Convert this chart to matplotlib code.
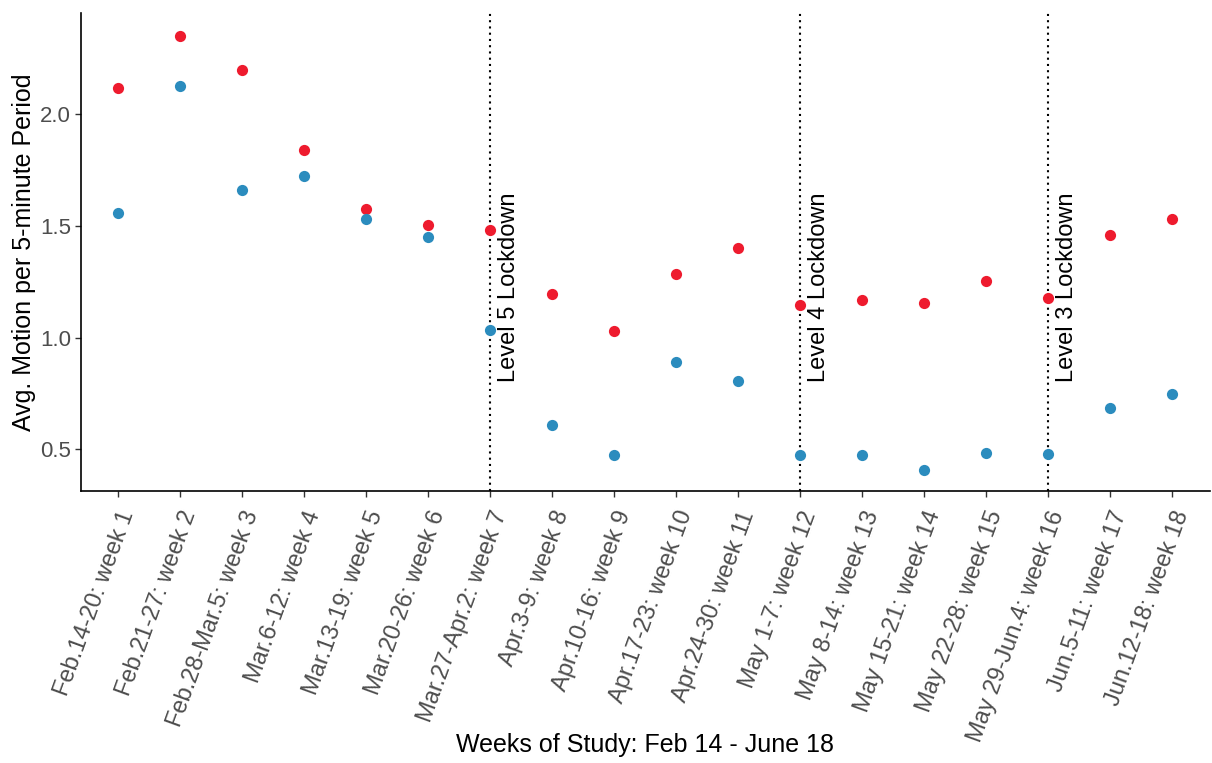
#!/usr/bin/env python3
import matplotlib
matplotlib.use('Agg')
import matplotlib.pyplot as plt
import matplotlib.transforms as mtransforms
import numpy as np

weeks = [
    'Feb.14-20: week 1', 'Feb.21-27: week 2', 'Feb.28-Mar.5: week 3',
    'Mar.6-12: week 4', 'Mar.13-19: week 5', 'Mar.20-26: week 6',
    'Mar.27-Apr.2: week 7', 'Apr.3-9: week 8', 'Apr.10-16: week 9',
    'Apr.17-23: week 10', 'Apr.24-30: week 11', 'May 1-7: week 12',
    'May 8-14: week 13', 'May 15-21: week 14', 'May 22-28: week 15',
    'May 29-Jun.4: week 16', 'Jun.5-11: week 17', 'Jun.12-18: week 18',
]
red_vals = [2.117, 2.350, 2.196, 1.839, 1.574, 1.504, 1.481, 1.196, 1.031,
            1.286, 1.400, 1.144, 1.167, 1.154, 1.252, 1.175, 1.460, 1.531]
blue_vals = [1.557, 2.125, 1.661, 1.720, 1.531, 1.448, 1.033, 0.607, 0.473,
             0.891, 0.805, 0.475, 0.473, 0.406, 0.485, 0.479, 0.686, 0.748]
lockdown_weeks = [7, 12, 16]
lockdown_labels = ['Level 5 Lockdown', 'Level 4 Lockdown', 'Level 3 Lockdown']

plt.rcParams['font.family'] = ['Liberation Sans', 'DejaVu Sans']

fig = plt.figure(figsize=(12.12, 7.63), dpi=100)
ax = fig.add_axes([0.0668, 0.3565, 0.9312, 0.6265])

x = np.arange(1, len(weeks) + 1)
ax.scatter(x, red_vals, s=65, color='#EE1B2E', zorder=3, linewidths=0)
ax.scatter(x, blue_vals, s=65, color='#2B8CBE', zorder=3, linewidths=0)

# lockdown markers
for wk, lab in zip(lockdown_weeks, lockdown_labels):
    ax.axvline(wk, color='black', linestyle=(0, (1, 2)), linewidth=1.5, zorder=2)
    ax.text(wk + 0.3, 0.8, lab, rotation=90, ha='center', va='bottom',
            fontsize=17, color='black')

ax.set_xlim(0.4, 18.6)
ax.set_ylim(0.314, 2.451)
ax.set_xticks(x)
ax.set_xticklabels(weeks, rotation=70, ha='right', rotation_mode='anchor',
                   fontsize=17, color='#4d4d4d')
ax.set_yticks([0.5, 1.0, 1.5, 2.0])
ax.set_yticklabels(['0.5', '1.0', '1.5', '2.0'], fontsize=16, color='#4d4d4d')
ax.tick_params(axis='both', length=4, width=1, color='#333333')
ax.tick_params(axis='x', pad=8)
ax.tick_params(axis='y', pad=3)

for side in ['top', 'right']:
    ax.spines[side].set_visible(False)
for side in ['left', 'bottom']:
    ax.spines[side].set_linewidth(1.2)

ax.set_ylabel('Avg. Motion per 5-minute Period', fontsize=18, labelpad=3)

# x title centred on the axes, placed near the bottom of the figure
trans = mtransforms.blended_transform_factory(ax.transAxes, fig.transFigure)
ax.text(0.5, 1 - 745 / 763, 'Weeks of Study: Feb 14 - June 18',
        fontsize=18, ha='center', va='center', transform=trans)

plt.savefig('out.png', dpi=100)
